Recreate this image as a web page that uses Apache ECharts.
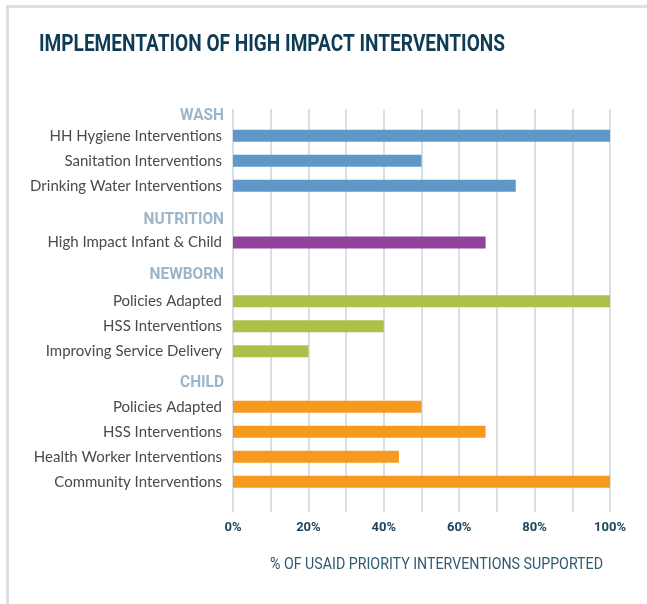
<!DOCTYPE html>
<html>
<head>
<meta charset="utf-8">
<script src="https://cdn.jsdelivr.net/npm/echarts@6/dist/echarts.min.js"></script>
<style>
html,body{margin:0;padding:0;background:#fff;}
#chart{width:647px;height:604px;}
</style>
</head>
<body>
<div id="chart"></div>
<script>
const titleText = 'IMPLEMENTATION OF HIGH IMPACT INTERVENTIONS';
const axisTitle = '% OF USAID PRIORITY INTERVENTIONS SUPPORTED';
const groupNames = ['WASH', 'NUTRITION', 'NEWBORN', 'CHILD'];
const washLabels = ['HH Hygiene Interventions', 'Sanitation Interventions', 'Drinking Water Interventions'];
const washValues = [100, 50, 75];
const nutritionLabels = ['High Impact Infant & Child'];
const nutritionValues = [67];
const newbornLabels = ['Policies Adapted', 'HSS Interventions', 'Improving Service Delivery'];
const newbornValues = [100, 40, 20];
const childLabels = ['Policies Adapted', 'HSS Interventions', 'Health Worker Interventions', 'Community Interventions'];
const childValues = [50, 67, 44, 100];
const tickValues = [0, 20, 40, 60, 80, 100];

const groups = [
  {labels: washLabels, values: washValues, color: '#5d98c8', top: 123.3, headY: 116},
  {labels: nutritionLabels, values: nutritionValues, color: '#914399', top: 230, headY: 219.5},
  {labels: newbornLabels, values: newbornValues, color: '#afc04a', top: 288.8, headY: 275},
  {labels: childLabels, values: childValues, color: '#f6991f', top: 394.2, headY: 383}
];
const band = 25;
const gridLeft = 233, gridWidth = 377;

// measure text to condense it to the reference width
const mctx = document.createElement('canvas').getContext('2d');
function fitScale(text, font, target) {
  mctx.font = font;
  return target / mctx.measureText(text).width;
}
const titleFont = 'bold 24px Roboto';
const nameFont = '17px Roboto';
const headFont = 'bold 16px Roboto';

const grid = [{left: gridLeft, width: gridWidth, top: 109, height: 403}];
const xAxis = [{
  gridIndex: 0, type: 'value', min: 0, max: 100, interval: 10,
  axisLine: {show: false}, axisTick: {show: false},
  splitLine: {show: true, lineStyle: {color: '#d6e0e7', width: 2}},
  axisLabel: {
    margin: 9, color: '#1c4660', fontFamily: 'Roboto', fontWeight: 'bold', fontSize: 13,
    formatter: v => tickValues.indexOf(v) >= 0 ? v + '%' : ''
  }
}];
const yAxis = [{gridIndex: 0, type: 'value', min: 0, max: 1, show: false}];
const series = [];
groups.forEach((g, i) => {
  const gi = i + 1;
  grid.push({left: gridLeft, width: gridWidth, top: g.top, height: band * g.labels.length});
  xAxis.push({gridIndex: gi, type: 'value', min: 0, max: 100, show: false});
  yAxis.push({
    gridIndex: gi, type: 'category', data: g.labels, inverse: true,
    axisLine: {show: false}, axisTick: {show: false},
    axisLabel: {margin: 11, color: '#4a4a4a', fontFamily: 'Lato', fontSize: 15}
  });
  series.push({
    type: 'bar', xAxisIndex: gi, yAxisIndex: gi, data: g.values, barWidth: 12,
    itemStyle: {color: g.color}, silent: true
  });
});

const titleScale = fitScale(titleText, titleFont, 466);
const nameScale = fitScale(axisTitle, nameFont, 333);
const headScale = fitScale('WASH', headFont, 44);
const graphic = [
  {type: 'rect', shape: {x: 6, y: 5, width: 641, height: 3}, style: {fill: '#d9e1e7'}},
  {type: 'rect', shape: {x: 6, y: 5, width: 3, height: 599}, style: {fill: '#d9e1e7'}},
  {type: 'text', x: 39, y: 45, scaleX: titleScale, style: {
    text: titleText, fill: '#0e3c55', font: titleFont, textVerticalAlign: 'middle'
  }},
  {type: 'text', x: 270, y: 565, scaleX: nameScale, style: {
    text: axisTitle, fill: '#2f5a72', font: nameFont, textVerticalAlign: 'middle'
  }}
];
groups.forEach((g, i) => {
  graphic.push({type: 'text', x: 224, y: g.headY, scaleX: headScale, style: {
    text: groupNames[i], fill: '#9cb5c9', font: headFont, textAlign: 'right', textVerticalAlign: 'middle'
  }});
});

const chart = echarts.init(document.getElementById('chart'));
chart.setOption({animation: false, grid, xAxis, yAxis, series, graphic});
</script>
</body>
</html>
